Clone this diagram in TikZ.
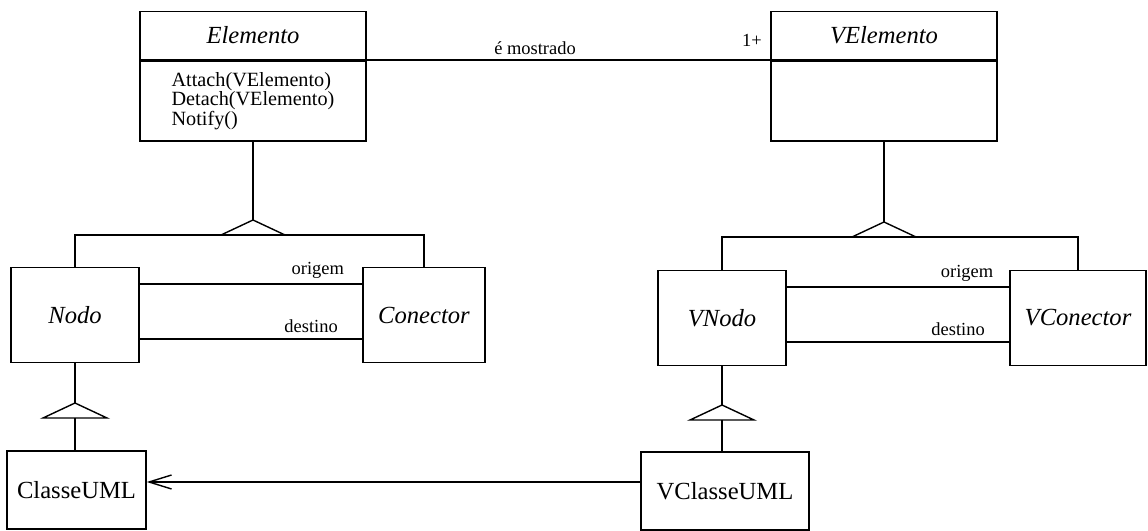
\documentclass[tikz,border=0pt]{standalone}
\usepackage{fontspec}
\setmainfont{Liberation Serif}
\usetikzlibrary{arrows.meta,positioning}
\tikzset{
  umlline/.style={
    line width=0.8pt,
    draw=black
  },
  classhead/.style={
    umlline,
    minimum width=45.2mm,
    minimum height=9.6mm,
    inner sep=1pt,
    font=\fontsize{14}{16}\selectfont\itshape
  },
  classbody/.style={
    umlline,
    minimum width=45.2mm,
    minimum height=16mm,
    inner sep=1pt,
    align=left,
    font=\fontsize{11.5}{11}\selectfont
  },
  leaf/.style={
    umlline,
    minimum height=19mm,
    inner sep=1pt,
    font=\fontsize{14}{16}\selectfont\itshape
  },
  concrete/.style={
    leaf,
    minimum height=15.6mm,
    font=\fontsize{14}{16}\selectfont\upshape
  },
  role/.style={
    inner sep=3pt,
    font=\fontsize{10.5}{12}\selectfont
  },
  navarrow/.style={
    umlline,
    -{Straight Barb[length=4.5mm,width=2.8mm,line width=0.8pt]}
  },
  isa/.pic={
    \draw[umlline, fill=white] (0,0) -- (-32,15) -- (32,15) -- cycle;
    \coordinate (-top) at (0,0);
    \coordinate (-base) at (0,15);
  }
}
\begin{document}
\begin{tikzpicture}[x=0.2mm, y=-0.2mm]
  \useasboundingbox (0,0) rectangle (1148,531);

  % model side
  \node[classhead] (Ehead) at (253,35.5) {Elemento};
  \node[classbody, below=0pt of Ehead] (Ebody) {Attach(VElemento)\\Detach(VElemento)\\Notify()};
  \node[leaf, minimum width=25.6mm] (Nodo) at (75,315) {Nodo};
  \node[leaf, minimum width=24.4mm] (Conector) at (424,315) {Conector};
  \node[concrete, minimum width=27.8mm] (ClasseUML) at (76.5,490) {ClasseUML};

  % view side
  \node[classhead] (VEhead) at (884,35.5) {VElemento};
  \node[classbody, below=0pt of VEhead] (VEbody) {};
  \node[leaf, minimum width=25.6mm] (VNodo) at (722,318) {VNodo};
  \node[leaf, minimum width=27.2mm] (VConector) at (1078,318) {VConector};
  \node[concrete, minimum width=33.6mm] (VClasseUML) at (725,491) {VClasseUML};

  % association between model and view
  \draw[umlline] (Ehead.south east) -- (VEhead.south west)
    node[role, pos=0.417, above] (mostrado) {é mostrado};
  \node[role, above left=1.7mm and 0.6mm of VEhead.south west] (mult) {1+};

  % generalizations
  \pic (isaE) at (253,220) {isa};
  \draw[umlline] (Ebody.south) -- (isaE-top);
  \draw[umlline] (Nodo.north) |- (isaE-base) -| (Conector.north);

  \pic (isaV) at (884,222) {isa};
  \draw[umlline] (VEbody.south) -- (isaV-top);
  \draw[umlline] (VNodo.north) |- (isaV-base) -| (VConector.north);

  \pic (isaN) at (75,403) {isa};
  \draw[umlline] (Nodo.south) -- (isaN-top);
  \draw[umlline] (isaN-base) -- (isaN-base |- ClasseUML.north);

  \pic (isaVN) at (722,405) {isa};
  \draw[umlline] (VNodo.south) -- (isaVN-top);
  \draw[umlline] (isaVN-base) -- (isaVN-base |- VClasseUML.north);

  % origem / destino roles
  \draw[umlline] ([yshift=6.2mm]Nodo.east) -- ([yshift=6.2mm]Nodo.east -| Conector.west)
    node[role, pos=0.8, above] (orig) {origem};
  \draw[umlline] ([yshift=-4.8mm]Nodo.east) -- ([yshift=-4.8mm]Nodo.east -| Conector.west)
    node[role, pos=0.77, above] (dest) {destino};
  \draw[umlline] ([yshift=6.2mm]VNodo.east) -- ([yshift=6.2mm]VNodo.east -| VConector.west)
    node[role, pos=0.81, above] (vorig) {origem};
  \draw[umlline] ([yshift=-4.8mm]VNodo.east) -- ([yshift=-4.8mm]VNodo.east -| VConector.west)
    node[role, pos=0.77, above] (vdest) {destino};

  % navigation
  \draw[navarrow] ([yshift=1.8mm]VClasseUML.west) -- ([yshift=1.8mm]VClasseUML.west -| ClasseUML.east);
\end{tikzpicture}
\end{document}
